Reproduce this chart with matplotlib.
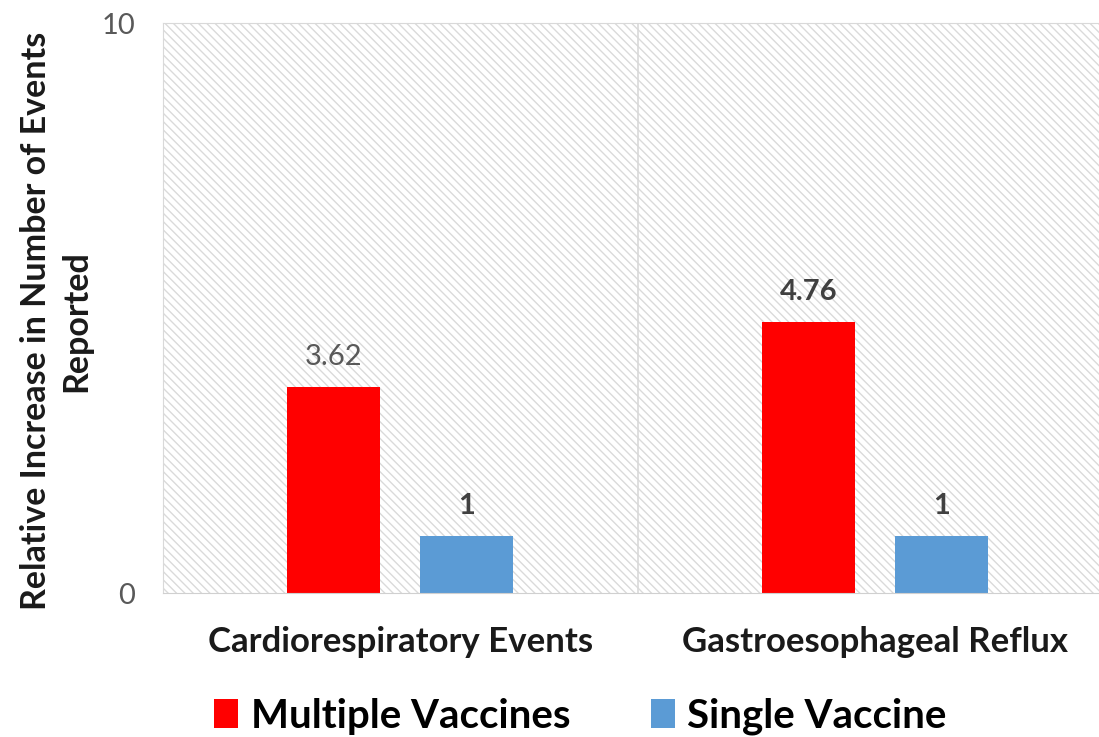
import numpy as np
import matplotlib.pyplot as plt
from matplotlib.patches import Rectangle

categories = ["Cardiorespiratory Events", "Gastroesophageal Reflux"]
multiple = [3.62, 4.76]
single = [1, 1]
multiple_labels = ["3.62", "4.76"]
single_labels = ["1", "1"]

plt.rcParams["font.family"] = ["Lato", "DejaVu Sans"]
plt.rcParams["hatch.linewidth"] = 1.0


def main():
    fig = plt.figure(figsize=(10.99, 7.37), dpi=100)
    # axes spans 163..1112 px horizontally, 23..593 px vertically
    ax = fig.add_axes([163 / 1099, 1 - 593 / 737, 949 / 1099, 570 / 737])
    ax.set_xlim(-0.5, 1.5)
    ax.set_ylim(0, 10)

    bg = Rectangle((0, 0), 1, 1, transform=ax.transAxes, facecolor="white",
                   edgecolor="#dadada", linewidth=0, hatch="\\\\\\\\", zorder=0)
    ax.add_patch(bg)
    ax.axvline(0.5, color="#d9d9d9", lw=1.2, zorder=1)

    x = np.arange(len(categories))
    w = 0.196
    off = 0.14
    ax.bar(x - off, multiple, w, color="#ff0000", zorder=2, label="Multiple Vaccines")
    ax.bar(x + off, single, w, color="#5b9bd5", zorder=2, label="Single Vaccine")

    # data labels
    ax.text(x[0] - off, multiple[0] + 0.3, multiple_labels[0], ha="center", va="bottom",
            fontsize=21, color="#595959")
    ax.text(x[1] - off, multiple[1] + 0.3, multiple_labels[1], ha="center", va="bottom",
            fontsize=21, color="#404040", fontweight="bold")
    for i in range(len(categories)):
        ax.text(x[i] + off, single[i] + 0.3, single_labels[i], ha="center", va="bottom",
                fontsize=21, color="#404040", fontweight="bold")

    ax.set_xticks(x)
    ax.set_xticklabels(categories, fontsize=25, fontweight="bold", color="#1a1a1a")
    ax.set_yticks([0, 10])
    ax.set_yticklabels(["0", "10"], fontsize=21, color="#595959")
    ax.tick_params(length=0)
    ax.tick_params(axis="x", pad=24)
    ax.tick_params(axis="y", pad=20)

    for s in ["top", "left", "right"]:
        ax.spines[s].set_color("#d9d9d9")
    ax.spines["bottom"].set_color("#d0d0d0")

    ax.set_ylabel("Relative Increase in Number of Events\nReported", fontsize=24.5,
                  fontweight="bold", color="#1a1a1a", linespacing=1.3)
    ax.yaxis.set_label_coords(-0.075, 0.477)

    fig.legend(loc="center", bbox_to_anchor=(0.528, 0.028), ncol=2,
               frameon=False, prop={"weight": "bold", "size": 29},
               handlelength=0.6, handleheight=0.7, handletextpad=0.3, columnspacing=2.0)

    plt.savefig("out.png", dpi=100)


if __name__ == "__main__":
    main()
